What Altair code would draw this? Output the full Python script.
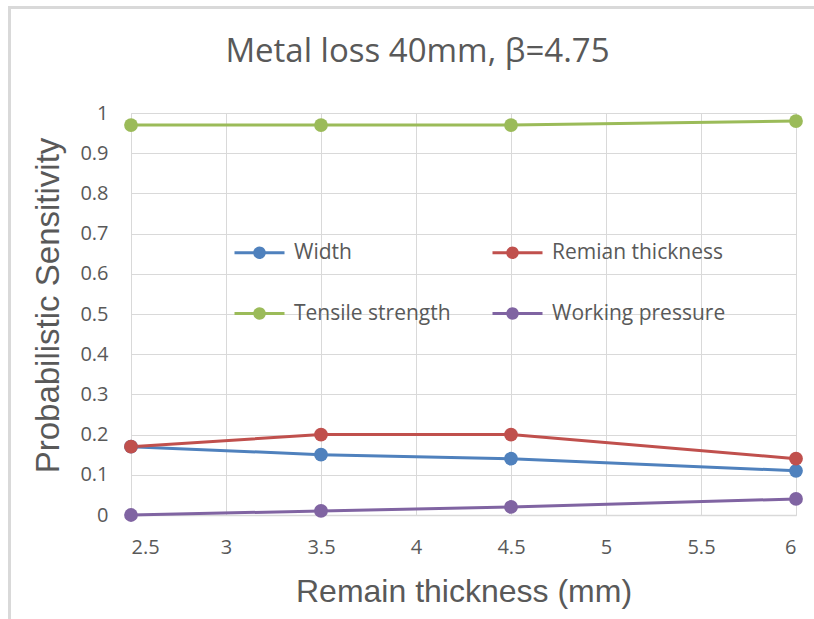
import altair as alt
import pandas as pd

# Remaining wall thickness (mm) at which sensitivities were evaluated
thickness = [2.5, 3.5, 4.5, 6.0]

# Probabilistic sensitivity of each random variable
width_vals = [0.17, 0.15, 0.14, 0.11]
remain_vals = [0.17, 0.20, 0.20, 0.14]
tensile_vals = [0.97, 0.97, 0.97, 0.98]
pressure_vals = [0.00, 0.01, 0.02, 0.04]

series_names = ["Width", "Remian thickness", "Tensile strength", "Working pressure"]
series_colors = ["#4F81BD", "#C0504D", "#9BBB59", "#8064A2"]

x_ticks = [2.5, 3, 3.5, 4, 4.5, 5, 5.5, 6]
y_ticks = [0, 0.1, 0.2, 0.3, 0.4, 0.5, 0.6, 0.7, 0.8, 0.9, 1]

rows = []
for name, vals in zip(series_names, [width_vals, remain_vals, tensile_vals, pressure_vals]):
    for t, v in zip(thickness, vals):
        rows.append({"thickness": t, "sensitivity": v, "variable": name})
df = pd.DataFrame(rows)

GRAY = "#595959"
GRID = "#d9d9d9"

# legend symbols: a line segment (line layer) and a dot (point layer) drawn on top of each other
line_path = "M-1,0H1"
dot_path = "M-0.25,0A0.25,0.25,0,1,1,0.25,0A0.25,0.25,0,1,1,-0.25,0Z"


def legend(symbol, show_labels):
    return alt.Legend(
        title=None,
        orient="none",
        legendX=102,
        legendY=113,
        direction="horizontal",
        columns=2,
        columnPadding=35,
        rowPadding=24,
        padding=0,
        symbolType=symbol,
        symbolSize=2500,
        symbolStrokeWidth=3,
        labelOffset=8,
        labelFont="Open Sans",
        labelFontSize=21,
        labelColor=GRAY,
        labelOpacity=1 if show_labels else 0,
        labelLimit=300,
    )


scale = alt.Scale(domain=series_names, range=series_colors)

x = alt.X(
    "thickness:Q",
    scale=alt.Scale(domain=[2.5, 6], nice=False, zero=False),
    axis=alt.Axis(
        title="Remain thickness (mm)",
        values=x_ticks,
        format="~g",
        ticks=False,
        labelPadding=22,
        titlePadding=19,
        titleFont="Liberation Sans",
        titleFontSize=32,
        titleFontWeight="normal",
        titleColor=GRAY,
        labelFont="Open Sans",
        labelFontSize=20,
        labelColor=GRAY,
        domainColor=GRID,
        domainWidth=1.5,
        gridColor=GRID,
        gridWidth=1,
    ),
)

y = alt.Y(
    "sensitivity:Q",
    scale=alt.Scale(domain=[0, 1], nice=False),
    axis=alt.Axis(
        title="Probabilistic Sensitivity",
        values=y_ticks,
        format=".1~f",
        ticks=False,
        domain=False,
        labelPadding=23,
        titlePadding=14,
        titleY=192,
        titleFont="Liberation Sans",
        titleFontSize=33,
        titleFontWeight="normal",
        titleColor=GRAY,
        labelFont="Open Sans",
        labelFontSize=20,
        labelColor=GRAY,
        gridColor=GRID,
        gridWidth=1,
    ),
)

lines = alt.Chart(df).mark_line(strokeWidth=3).encode(
    x=x, y=y, color=alt.Color("variable:N", scale=scale, legend=legend(line_path, True))
)
points = alt.Chart(df).mark_point(filled=True, size=190, opacity=1).encode(
    x="thickness:Q",
    y="sensitivity:Q",
    color=alt.Color("variable:N", scale=scale, legend=legend(dot_path, False)),
)

# light frame around the chart (top and left edges)
frame_data = alt.Data(values=[{}])
frame_top = alt.Chart(frame_data).mark_rule(color=GRID, strokeWidth=3).encode(
    x=alt.value(-123), x2=alt.value(690), y=alt.value(-105.5)
)
frame_left = alt.Chart(frame_data).mark_rule(color=GRID, strokeWidth=3).encode(
    x=alt.value(-121.5), y=alt.value(-107), y2=alt.value(510)
)

chart = (
    alt.layer(frame_top, frame_left, lines, points)
    .resolve_scale(color="independent")
    .properties(
        width=665,
        height=402,
        autosize=alt.AutoSizeParams(type="none"),
        padding={"left": 131, "top": 113, "right": 18, "bottom": 104},
        title=alt.TitleParams(
            "Metal loss 40mm, β=4.75",
            font="Open Sans",
            fontSize=33,
            fontWeight="normal",
            color=GRAY,
            anchor="middle",
            frame="group",
            dx=-46,
            offset=-64,
        ),
    )
    .configure_view(stroke=None)
    .configure(background="white")
)

chart.save("out.html", embed_options={"renderer": "svg", "actions": False})
